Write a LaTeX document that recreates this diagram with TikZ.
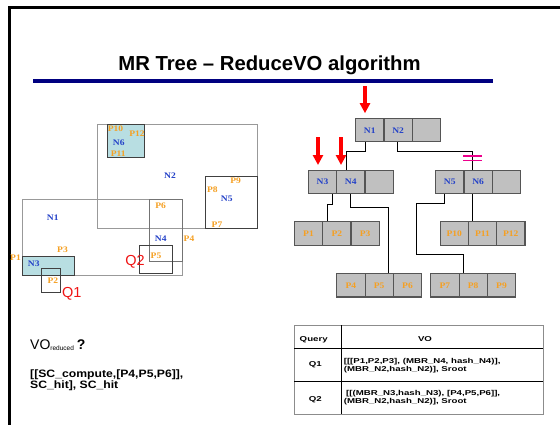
\documentclass[tikz,border=0pt]{standalone}
\usepackage{fontspec}
\setmainfont{Liberation Serif}
\setsansfont{Liberation Sans}
\newfontfamily\slidesans{Liberation Sans}
\newfontfamily\widesans[FakeStretch=1.14]{Liberation Sans}
\newfontfamily\tablesans[FakeStretch=1.36]{Liberation Sans}
\newfontfamily\lblserif[FakeStretch=1.12]{Liberation Serif}
\usetikzlibrary{arrows.meta,calc}

\definecolor{slideblue}{RGB}{0,0,128}
\definecolor{ptorange}{RGB}{245,160,35}
\definecolor{nodeblue}{RGB}{35,65,200}
\definecolor{mbrfill}{RGB}{184,222,226}
\definecolor{cellgray}{RGB}{192,192,192}
\definecolor{celledge}{RGB}{85,85,85}
\definecolor{qred}{RGB}{240,20,20}

\tikzset{
  lblfont/.style={font=\lblserif\bfseries\fontsize{8.5}{8.5}\selectfont},
  cell/.style={lblfont, draw=celledge, line width=1.1pt, fill=cellgray,
    minimum width=28.3pt, minimum height=23.3pt, inner sep=0pt},
  ncell/.style={cell, text=nodeblue},
  pcell/.style={cell, text=ptorange},
  plabel/.style={lblfont, text=ptorange, inner sep=0pt},
  nlabel/.style={lblfont, text=nodeblue, inner sep=0pt},
  qlabel/.style={font=\slidesans\fontsize{14.5}{14.5}\selectfont, text=qred, inner sep=0pt},
  mbrlight/.style={draw=black!40, line width=0.9pt},
  mbrmid/.style={draw=black!55, line width=0.9pt},
  mbrdark/.style={draw=black!75, line width=0.9pt},
  link/.style={draw=black, line width=0.9pt},
  redarrow/.style={draw=red, line width=3.3pt, -{Triangle[width=10pt,length=10pt]}},
  cutbar/.style={draw=magenta, line width=1.6pt},
  tabtext/.style={font=\tablesans\bfseries\fontsize{7.1}{7.1}\selectfont, inner sep=0pt},
}

\begin{document}
\begin{tikzpicture}[x=1pt,y=-1pt]
\useasboundingbox (0,0) rectangle (560,424);
\fill[white] (0,0) rectangle (560,424);

% slide frame and title
\draw[line width=3pt] (9.3,426) -- (9.3,7.3) -- (562,7.3);
\node[font=\slidesans\bfseries\fontsize{20.3}{24}\selectfont, anchor=base, inner sep=0pt]
  (title) at (269.5,70) {MR Tree – ReduceVO algorithm};
\draw[slideblue, line width=3.7pt] (33.3,81) -- (493.3,81);

% ---------- spatial layout of the MBRs ----------
\fill[mbrfill] (107,124.7) rectangle (144.3,157.7);
\fill[mbrfill] (22.3,256) rectangle (74,275);
\draw[mbrlight] (97.3,124.7) rectangle (257.3,228);   % N2
\draw[mbrlight] (22.3,199.7) rectangle (182,275);     % N1
\draw[mbrdark]  (205.3,176.7) rectangle (257.3,228);  % N5
\draw[mbrmid]   (149.3,199.7) rectangle (182,261);    % N4
\draw[mbrdark]  (107,124.7) rectangle (144.3,157.7);  % N6
\draw[mbrdark]  (22.3,256) rectangle (74,275);        % N3
\draw[mbrdark]  (41.3,268.3) rectangle (60,292.3);    % Q1
\draw[mbrdark]  (139.3,245) rectangle (172.3,273.3);  % Q2

\node[plabel] (mP10) at (115.5,129) {P10};
\node[plabel] (mP12) at (137,134) {P12};
\node[nlabel] (mN6)  at (118.7,142.7) {N6};
\node[plabel] (mP11) at (118.3,154) {P11};
\node[nlabel] (mN2)  at (170,175.7) {N2};
\node[plabel] (mP9)  at (235.7,180.7) {P9};
\node[plabel] (mP8)  at (212.3,190) {P8};
\node[nlabel] (mN5)  at (226.7,198.7) {N5};
\node[plabel] (mP7)  at (217,224.3) {P7};
\node[nlabel] (mN1)  at (52.7,217.7) {N1};
\node[plabel] (mP6)  at (160.7,206) {P6};
\node[nlabel] (mN4)  at (160.7,238.7) {N4};
\node[plabel] (mP4)  at (189,238.7) {P4};
\node[plabel] (mP3)  at (62.5,249.3) {P3};
\node[plabel] (mP1)  at (15.5,257.7) {P1};
\node[nlabel] (mN3)  at (33.7,263.7) {N3};
\node[plabel] (mP5)  at (156,255.7) {P5};
\node[plabel] (mP2)  at (52.8,280.7) {P2};
\node[qlabel] (mQ2)  at (135,262.3) {Q2};
\node[qlabel] (mQ1)  at (71.8,294.3) {Q1};

% ---------- the tree ----------
\node[ncell] (tN1) at (369.8,130.2) {N1};
\node[ncell] (tN2) at (398.1,130.2) {N2};
\node[cell]  (tR3) at (426.4,130.2) {};

\node[ncell] (tN3) at (322.5,181.8) {N3};
\node[ncell] (tN4) at (350.8,181.8) {N4};
\node[cell]  (tL3) at (379.1,181.8) {};

\node[ncell] (tN5) at (449.8,181.8) {N5};
\node[ncell] (tN6) at (478.1,181.8) {N6};
\node[cell]  (tM3) at (506.4,181.8) {};

\node[pcell] (tP1) at (308.5,233.5) {P1};
\node[pcell] (tP2) at (336.8,233.5) {P2};
\node[pcell] (tP3) at (365.1,233.5) {P3};

\node[pcell] (tP10) at (454.2,233.5) {P10};
\node[pcell] (tP11) at (482.5,233.5) {P11};
\node[pcell] (tP12) at (510.8,233.5) {P12};

\node[pcell] (tP4) at (350.9,285.3) {P4};
\node[pcell] (tP5) at (379.2,285.3) {P5};
\node[pcell] (tP6) at (407.5,285.3) {P6};

\node[pcell] (tP7) at (444.9,285.3) {P7};
\node[pcell, text depth=-3pt] (tP8) at (473.2,285.3) {P8};
\node[pcell] (tP9) at (501.5,285.3) {P9};

% tree edges
\draw[link] ($(tN1.south)+(-4,0)$) -- ++(0,9) -| ($(tN4.north)+(-4.5,0)$);
\coordinate (n6foot) at ($(tN6.south)+(-5.4,0)$);
\coordinate (n6head) at ($(tN6.north)+(-5.4,0)$);
\draw[link] ($(tN2.south)+(-0.8,0)$) -- ++(0,9) -| (n6head);
\draw[link] ($(tN3.south)+(9.8,0)$) -- ++(0,10) -| ($(tP2.north)+(-9.1,0)$);
\draw[link] ($(tN4.south)+(-0.8,0)$) -- ++(0,13.5) -| ($(tP5.north)+(9.1,0)$);
\coordinate (bend5) at (416.7,254.3);
\draw[link] ($(tN5.south)+(-5.5,0)$) -- ++(0,9.5) -| (bend5) -| ($(tP8.north)+(-9.5,0)$);
\draw[link] (n6foot) -- (n6foot |- tP11.north);

% pruned branch marker
\coordinate (cut) at ($(n6head)+(0,-11.4)$);
\draw[cutbar] ($(cut)+(-9.35,-2.15)$) -- ++(18.7,0);
\draw[cutbar] ($(cut)+(-9.35,2.15)$) -- ++(18.7,0);

% traversal arrows
\coordinate (arrRoot) at (365,86);
\coordinate (arrN3) at (318,137.3);
\coordinate (arrN4) at (341,137.3);
\draw[redarrow, shorten >=4.8pt] (arrRoot) -- (arrRoot |- tN1.north);
\draw[redarrow, shorten >=4.6pt] (arrN3) -- (arrN3 |- tN3.north);
\draw[redarrow, shorten >=4.6pt] (arrN4) -- (arrN4 |- tN4.north);

% ---------- reduced VO ----------
\node[anchor=base west, inner sep=0pt, font=\slidesans\fontsize{14}{14}\selectfont] (voq) at (30,349)
  {VO\raisebox{-1.5pt}{\fontsize{6.5}{6.5}\selectfont reduced}\hspace{3pt}\textbf{?}};
\node[anchor=base west, inner sep=0pt, font=\widesans\bfseries\fontsize{10.7}{10.7}\selectfont] (vo1) at (30,377.7)
  {[[SC\_compute,[P4,P5,P6]],};
\node[anchor=base west, inner sep=0pt, font=\widesans\bfseries\fontsize{10.7}{10.7}\selectfont] (vo2) at (30,388.3)
  {SC\_hit], SC\_hit};

% ---------- VO table ----------
\draw[black!45, line width=0.9pt] (294.3,325) rectangle (543.3,414);
\draw[black, line width=0.9pt] (294.3,348.3) -- (543.3,348.3);
\draw[black, line width=0.9pt] (294.3,381.7) -- (543.3,381.7);
\draw[black, line width=0.9pt] (341.7,325) -- (341.7,414);

\node[tabtext, anchor=base] (hQuery) at (313.7,341) {Query};
\node[tabtext, anchor=base] (hVO) at (425,341) {VO};
\node[tabtext, anchor=base] (rQ1) at (315.3,366.5) {Q1};
\node[tabtext, anchor=base west] (rQ1a) at (343.6,363.2) {[[[P1,P2,P3], (MBR\_N4, hash\_N4)],};
\node[tabtext, anchor=base west] (rQ1b) at (343.6,371) {(MBR\_N2,hash\_N2)], Sroot};
\node[tabtext, anchor=base] (rQ2) at (315.3,401.5) {Q2};
\node[tabtext, anchor=base west] (rQ2a) at (346,395.8) {[[(MBR\_N3,hash\_N3), [P4,P5,P6]],};
\node[tabtext, anchor=base west] (rQ2b) at (343.6,403.6) {(MBR\_N2,hash\_N2)], Sroot};
\end{tikzpicture}
\end{document}
